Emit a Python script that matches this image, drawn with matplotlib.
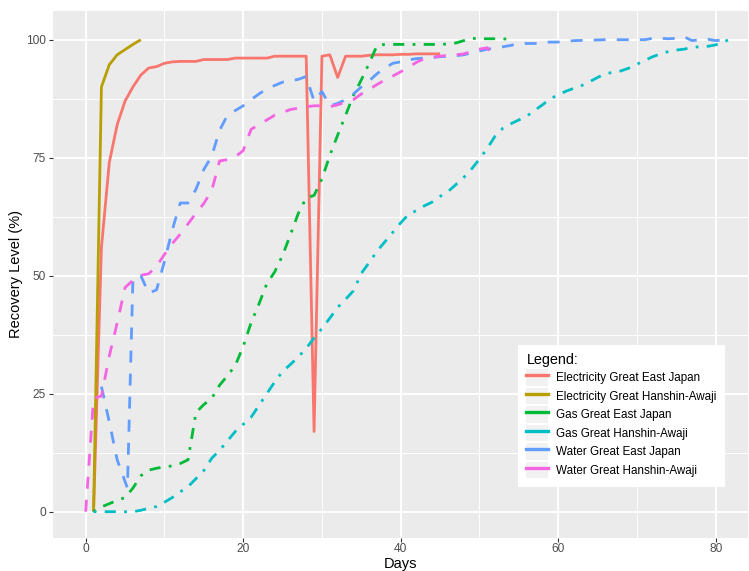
import matplotlib
matplotlib.use("Agg")
import matplotlib.pyplot as plt
from matplotlib.lines import Line2D
from matplotlib.patches import Rectangle
from matplotlib.legend_handler import HandlerTuple

plt.rcParams['font.family'] = ['Liberation Sans', 'DejaVu Sans']
plt.rcParams['lines.scale_dashes'] = False

# ---------------- data ----------------
elec_east_days = list(range(1, 46))
elec_east_vals = [0, 56, 74, 82, 87, 90, 92.5, 94, 94.3, 95, 95.3, 95.4, 95.4, 95.4, 95.8,
                  95.8, 95.8, 95.8, 96.1, 96.1, 96.1, 96.1, 96.1, 96.5, 96.5, 96.5, 96.5, 96.5,
                  17, 96.5, 96.8, 92, 96.5, 96.5, 96.5, 96.7, 96.8, 96.8, 96.8, 96.9, 96.9,
                  97, 97, 97, 97]

elec_hanshin_days = [1, 2, 3, 4, 5, 6, 7]
elec_hanshin_vals = [0, 90, 94.7, 96.8, 97.9, 99, 100]

gas_east_days = list(range(1, 55))
gas_east_vals = [0, 1, 1.7, 2.4, 3, 5, 7.6, 8.8, 9.2, 9.5, 9.7, 10.2, 11, 21, 22.7, 24,
                 26.8, 28.8, 31, 35, 40, 44, 48.3, 50.8, 54.3, 58.7, 63.2, 66.5, 67, 70.5,
                 75.5, 79.8, 84, 88.2, 91.5, 95, 98.8, 99, 99, 99, 99, 99, 99, 99, 99, 99.1,
                 99.3, 99.8, 100.3, 100.2, 100.2, 100.2, 100.2, 100]

gas_hanshin_days = list(range(1, 83))
gas_hanshin_vals = [0, 0, 0, 0, 0, 0, 0.3, 0.7, 1.1, 2, 3, 4.2, 5.3, 7, 8.7, 11.3, 13, 15,
                    17, 18.5, 20, 22.5, 25, 27.5, 29.7, 31.2, 32.8, 34.6, 36.8, 38.8, 41,
                    43.3, 45, 46.8, 50.5, 52.8, 55.2, 57.2, 59.2, 61.2, 63, 63.8, 64.8, 65.6,
                    66.8, 67.8, 69.3, 70.8, 72.6, 74.7, 77, 79.6, 81.3, 82.2, 83, 83.8, 85,
                    86.2, 87.5, 88.3, 89.1, 89.7, 90.3, 91.1, 92, 92.8, 93.1, 93.4, 94, 94.8,
                    95.6, 96.4, 97, 97.5, 97.8, 98, 98.4, 98.5, 98.6, 98.9, 99.5, 100.3]

water_east_days = [2, 3, 4, 5.3, 6, 7, 8, 9, 10, 11, 12, 13, 14, 15, 16, 17, 18, 19, 20, 21,
                   22, 23, 24, 25, 26, 27, 28, 29, 30, 31, 32, 33, 34, 35, 36, 37, 38, 39,
                   40, 41, 42, 43, 44, 45, 46, 47, 48, 49, 50, 51, 52, 53, 54, 55, 56, 57,
                   58, 59, 60, 62, 64, 66, 68, 70, 71, 72, 73, 74, 75, 76, 77, 78, 79, 80, 81]
water_east_vals = [26.5, 19, 11, 5, 49.5, 50, 46.3, 47, 53, 59.7, 65.4, 65.4, 68.3, 72.5,
                   75.3, 80.8, 84, 85, 86, 87.3, 88.5, 89.6, 90.3, 91, 91.3, 91.6, 92.2, 87,
                   89, 86, 86.5, 87.3, 88.5, 90, 91.3, 92.8, 94, 95, 95.3, 95.7, 96, 96.1,
                   96.2, 96.4, 96.5, 96.6, 96.8, 97.2, 97.6, 98, 98.2, 98.5, 98.8, 99.2, 99.2,
                   99.2, 99.4, 99.5, 99.5, 99.8, 99.9, 100, 100, 100, 100, 100.3, 100.3,
                   100.2, 100.3, 100.6, 99.8, 100, 100.1, 99.8, 100]

water_hanshin_days = list(range(0, 53))
water_hanshin_vals = [0, 24, 24.5, 33, 40, 47.5, 49, 50.1, 50.4, 52, 54.5, 56.8, 58.8, 61,
                      63.2, 65.3, 68, 74.3, 74.6, 75.2, 76.5, 81, 82, 83, 84, 84.6, 85.2,
                      85.5, 85.8, 86, 86, 85.8, 86.2, 86.8, 87.3, 88.5, 89.5, 90.5, 91.5,
                      92.3, 93.2, 94.2, 95.2, 96, 96.3, 96.5, 96.7, 96.8, 97, 97.5, 98, 98.3, 96]

series_labels = ["Electricity Great East Japan", "Electricity Great Hanshin-Awaji",
                 "Gas Great East Japan", "Gas Great Hanshin-Awaji",
                 "Water Great East Japan", "Water Great Hanshin-Awaji"]
x_ticks = [0, 20, 40, 60, 80]
y_ticks = [0, 25, 50, 75, 100]

# ---------------- styling ----------------
colors = ["#F8766D", "#B79F00", "#00BA38", "#00BFC4", "#619CFF", "#F564E3"]
solid = None
dashed = (0, (8.6, 8.0))
dotdash = (0, (2.0, 6.0, 8.0, 6.0))
styles = [solid, solid, dotdash, dotdash, dashed, dashed]
series = [(elec_east_days, elec_east_vals), (elec_hanshin_days, elec_hanshin_vals),
          (gas_east_days, gas_east_vals), (gas_hanshin_days, gas_hanshin_vals),
          (water_east_days, water_east_vals), (water_hanshin_days, water_hanshin_vals)]

W, H = 749, 571
fig = plt.figure(figsize=(W / 100, H / 100), dpi=100)
left_px, right_px, top_px, bot_px = 53, 748, 11, 537.5
ax = fig.add_axes([left_px / W, 1 - bot_px / H, (right_px - left_px) / W, (bot_px - top_px) / H])
ax.set_facecolor("#EBEBEB")
for s in ax.spines.values():
    s.set_visible(False)

ax.set_xlim(-4.15, 84.1)
ax.set_ylim(-5.47, 106.08)
ax.set_xticks(x_ticks)
ax.set_xticklabels([str(v) for v in x_ticks])
ax.set_yticks(y_ticks)
ax.set_yticklabels([str(v) for v in y_ticks])
ax.set_xticks([10, 30, 50, 70], minor=True)
ax.set_yticks([12.5, 37.5, 62.5, 87.5], minor=True)
ax.grid(which="major", color="white", linewidth=1.4)
ax.grid(which="minor", color="white", linewidth=0.7)
ax.set_axisbelow(True)
ax.tick_params(which="major", length=2.6, width=0.8, color="#333333",
               labelsize=8.6, labelcolor="#4D4D4D")
ax.tick_params(axis="x", pad=1.5)
ax.tick_params(axis="y", pad=2.5)
ax.tick_params(which="minor", length=0)

ax.set_xlabel("Days", fontsize=10.5, labelpad=1.5)
ax.set_ylabel("Recovery Level (%)", fontsize=10.5, labelpad=2)

for (d, v), c, ls in zip(series, colors, styles):
    if ls is None:
        ax.plot(d, v, color=c, linewidth=2.0, solid_capstyle="butt")
    else:
        ax.plot(d, v, color=c, linewidth=2.0, linestyle=ls, dash_capstyle="butt")

handles = []
for c in colors:
    handles.append((Rectangle((0, 0), 1, 1, facecolor="#F2F2F2", edgecolor="none"),
                    Line2D([], [], color=c, linewidth=2.4)))
leg = ax.legend(handles, series_labels, handler_map={tuple: HandlerTuple(ndivide=1, pad=0)},
                loc="upper left", bbox_to_anchor=(518 / W, 1 - 345 / H),
                bbox_transform=fig.transFigure, borderaxespad=0,
                title="Legend:", title_fontsize=10.4, fontsize=8.4,
                alignment="left", frameon=True, fancybox=False,
                facecolor="white", edgecolor="white", framealpha=1,
                borderpad=0.72, handlelength=1.86, handleheight=1.83,
                handletextpad=0.72, labelspacing=0.15)
leg.get_frame().set_linewidth(0)

fig.savefig("out.png", dpi=100)
